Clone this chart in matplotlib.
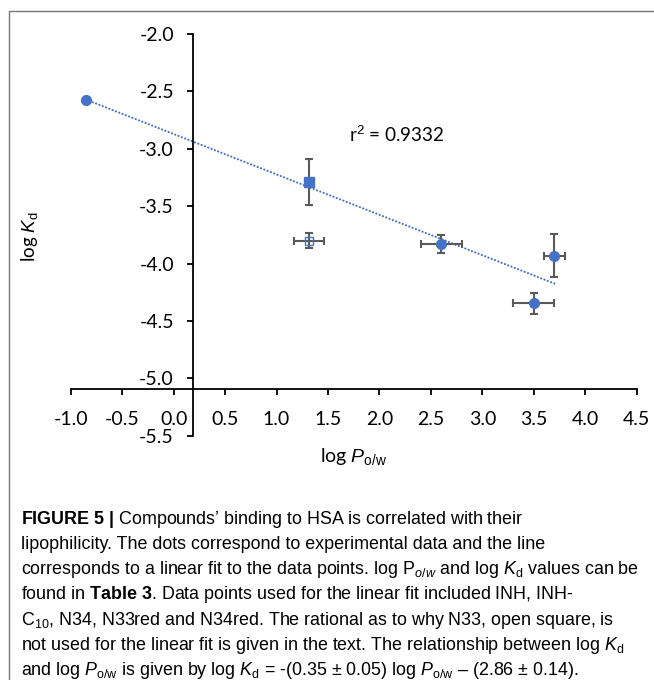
import matplotlib
matplotlib.use("Agg")
import matplotlib.pyplot as plt
import numpy as np
from matplotlib.lines import Line2D

plt.rcParams['font.family'] = ['Lato', 'DejaVu Sans']
plt.rcParams['mathtext.fontset'] = 'custom'
plt.rcParams['mathtext.rm'] = 'Liberation Sans'
plt.rcParams['mathtext.it'] = 'Liberation Sans:italic'
plt.rcParams['mathtext.bf'] = 'Liberation Sans:bold'

# data
# circles (INH, N34, N33red, N34red), filled square (INH-C10), open square (N33)
circ_x = [-0.85, 2.60, 3.70, 3.50]
circ_y = [-2.576, -3.830, -3.931, -4.347]
circ_xerr = [0.0, 0.20, 0.10, 0.20]
circ_yerr = [0.0, 0.08, 0.186, 0.093]

sq_x = [1.32]
sq_y = [-3.288]
sq_yerr = [0.20]

open_x = [1.32]
open_y = [-3.80]
open_xerr = [0.146]
open_yerr = [0.062]

r2_text = r"r$^\mathrm{2}$ = 0.9332"

xticks = [-1.0, -0.5, 0.0, 0.5, 1.0, 1.5, 2.0, 2.5, 3.0, 3.5, 4.0, 4.5]
xtick_labels = ['-1.0', '-0.5', '0.0', '0.5', '1.0', '1.5', '2.0', '2.5',
                '3.0', '3.5', '4.0', '4.5']
yticks = [-2.0, -2.5, -3.0, -3.5, -4.0, -4.5, -5.0, -5.5]
ytick_labels = ['-2.0', '-2.5', '-3.0', '-3.5', '-4.0', '-4.5', '-5.0', '-5.5']

caption = [
    r"$\mathbf{FIGURE\ 5\ |}$ Compounds" + "\u2019" + " binding to HSA is correlated with their",
    "lipophilicity. The dots correspond to experimental data and the line",
    r"corresponds to a linear fit to the data points. log P$_{\mathit{o/w}}$ and log $\mathit{K}_\mathrm{d}$ values can be",
    r"found in $\mathbf{Table\ 3}$. Data points used for the linear fit included INH, INH-",
    r"C$_{10}$, N34, N33red and N34red. The rational as to why N33, open square, is",
    r"not used for the linear fit is given in the text. The relationship between log $\mathit{K}_\mathrm{d}$",
    r"and log $\mathit{P}_\mathrm{o/w}$ is given by log $\mathit{K}_\mathrm{d}$ = -(0.35 " + "\u00b1"
    + r" 0.05) log $\mathit{P}_\mathrm{o/w}$ " + "\u2013" + " (2.86 \u00b1 0.14).",
]

blue = '#4472C4'
grey = '#5a5a5a'

W, H = 654, 680
fig = plt.figure(figsize=(W / 100, H / 100), dpi=100)
ax = fig.add_axes([70.7 / W, 1 - 435.7 / H, 566 / W, 401.7 / H])
ax.set_xlim(-1.0, 4.5)
ax.set_ylim(-5.5, -2.0)

# linear fit through the filled points
fit_x = circ_x + sq_x
fit_y = circ_y + sq_y
k, b = np.polyfit(fit_x, fit_y, 1)
lx = np.array([min(fit_x), max(fit_x)])
ax.plot(lx, k * lx + b, color=blue, lw=1.5, linestyle=(0, (0.1, 1.6)),
        dash_capstyle='round', zorder=2)

ebkw = dict(fmt='none', ecolor=grey, elinewidth=1.5, capsize=3.2, capthick=1.5, zorder=3)
ax.errorbar(circ_x, circ_y, xerr=circ_xerr, yerr=circ_yerr, **ebkw)
ax.errorbar(sq_x, sq_y, yerr=sq_yerr, **ebkw)
ax.errorbar(open_x, open_y, xerr=open_xerr, yerr=open_yerr, **ebkw)

ax.plot(circ_x, circ_y, 'o', color=blue, ms=7, mec=blue, ls='none', zorder=4)
ax.plot(sq_x, sq_y, 's', color=blue, ms=6.5, mec=blue, ls='none', zorder=4)
ax.plot(open_x, open_y, 's', mfc='none', mec=blue, mew=1.0, ms=5.2, ls='none', zorder=4)

ax.text(1.705, -2.88, r2_text, fontsize=13.6, ha='left', va='center')

for s in ['top', 'right']:
    ax.spines[s].set_visible(False)
ax.spines['left'].set_position(('data', 0.19))
ax.spines['bottom'].set_position(('data', -5.095))
for s in ['left', 'bottom']:
    ax.spines[s].set_linewidth(1.3)
    ax.spines[s].set_color('black')

ax.set_xticks(xticks)
ax.set_xticklabels(xtick_labels)
ax.set_yticks(yticks)
ax.set_yticklabels(ytick_labels)
ax.tick_params(axis='both', direction='out', length=4.3, width=1.3, labelsize=14)
ax.tick_params(axis='y', pad=9.5)
ax.tick_params(axis='x', pad=11.5)

fig.text(29 / W, 1 - 237 / H, r"log $\mathit{K}_\mathrm{d}$", rotation=90,
         ha='center', va='center', fontsize=13.5)
fig.text(354 / W, 1 - 456.7 / H, r"log $\mathit{P}_\mathrm{o/w}$",
         ha='center', va='center', fontsize=14)

# caption below the chart
for i, line in enumerate(caption):
    fig.text(20.7 / W, 1 - (523.5 + 25.3 * i) / H, line, family='Liberation Sans',
             fontsize=12.9, ha='left', va='baseline')

# grey frame round the figure (top and left edges visible)
fig.add_artist(Line2D([9.3 / W, 9.3 / W, 1.0], [0.0, 1 - 10.7 / H, 1 - 10.7 / H],
                      transform=fig.transFigure, color='#777777', lw=1.0))

fig.savefig('out.png', dpi=100)
